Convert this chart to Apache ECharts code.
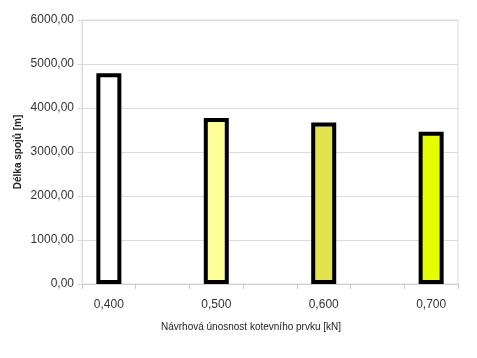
<!DOCTYPE html>
<html><head><meta charset="utf-8">
<script src="https://cdn.jsdelivr.net/npm/echarts@6/dist/echarts.min.js"></script>
<style>html,body{margin:0;padding:0;background:#fff}#c{width:477px;height:358px}</style>
</head><body><div id="c"></div>
<script>
const categories = ['0,400','0,450','0,500','0,550','0,600','0,650','0,700'];
const values = [4790, null, 3770, null, 3670, null, 3460];
const barColors = ['#ffffff', null, '#ffff99', null, '#e3e34e', null, '#e6ff00'];
const yTicks = [0, 1000, 2000, 3000, 4000, 5000, 6000];

const chart = echarts.init(document.getElementById('c'), null, {renderer:'canvas'});
const data = values.map((v,i)=> v==null ? '-' : {value:v, itemStyle:{color:barColors[i]}});
chart.setOption({
  animation:false,
  backgroundColor:'#fff',
  grid:{left:82, right:19, top:20, bottom:74, show:true, borderColor:'#dcdcdc', borderWidth:1, backgroundColor:'transparent'},
  xAxis:{
    type:'category', data:categories,
    name:'Návrhová únosnost kotevního prvku [kN]', nameLocation:'middle', nameGap:38,
    nameMoveOverlap:false,
    nameTextStyle:{fontFamily:'Liberation Sans', fontSize:10, color:'#222', padding:[0,38,0,0]},
    axisLine:{lineStyle:{color:'#d0d0d0'}},
    axisTick:{show:true, interval:0, length:5, lineStyle:{color:'#c8c8c8'}},
    axisLabel:{interval:1, margin:15, fontFamily:'Liberation Sans', fontSize:12, color:'#333'},
    splitLine:{show:false}
  },
  yAxis:{
    type:'value', min:yTicks[0], max:yTicks[yTicks.length-1], interval:1000,
    name:'Délka spojů [m]', nameLocation:'middle', nameGap:59,
    nameMoveOverlap:false,
    nameTextStyle:{fontFamily:'Liberation Sans', fontSize:10, fontWeight:'bold', color:'#222'},
    axisLine:{show:true, lineStyle:{color:'#dcdcdc'}},
    axisTick:{show:true, length:5, lineStyle:{color:'#dcdcdc'}},
    axisLabel:{margin:8, fontFamily:'Liberation Sans', fontSize:12, color:'#333',
      formatter:v=>v.toFixed(2).replace('.',',')},
    splitLine:{lineStyle:{color:'#dcdcdc'}}
  },
  series:[{
    type:'bar', data:data, barWidth:25,
    itemStyle:{borderColor:'#000', borderWidth:4}
  }]
});
</script></body></html>
